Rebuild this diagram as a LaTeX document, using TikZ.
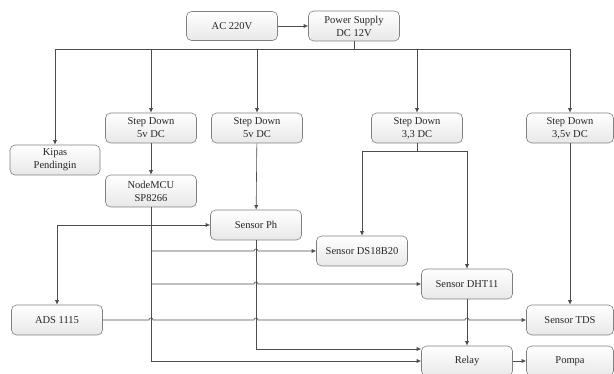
\documentclass[tikz,border=0pt]{standalone}
\usepackage{fontspec}
\setmainfont{Liberation Serif}
\usetikzlibrary{arrows.meta,calc}

\begin{document}
\begin{tikzpicture}[x=1pt,y=-1pt,>={Latex[length=4.5pt,width=4pt]},
    blok/.style={draw=black!50,line width=0.6pt,rounded corners=5pt,top color=white,
      bottom color=blue!5!black!9,minimum width=91pt,minimum height=30pt,align=center,
      inner sep=1pt,text=black!85,font=\fontsize{10.5}{13}\selectfont},
    garis/.style={draw=black!70,line width=0.6pt}]
    \useasboundingbox (0,0) rectangle (614,374);
    % Blocks (centres in pixel coords of the picture)
    \node[blok,minimum height=29pt] (ac) at (232,26) {AC 220V};
    \node[blok] (ps) at (354,26) {Power Supply\\DC 12V};
    \node[blok,minimum width=90pt] (kipas) at (55,160) {Kipas\\Pendingin};
    \node[blok] (sda) at (151,128) {Step Down\\5v DC};
    \node[blok] (sdb) at (257,128) {Step Down\\5v DC};
    \node[blok] (sdc) at (417,128) {Step Down\\3,3 DC};
    \node[blok,minimum width=87pt] (sdd) at (570,128) {Step Down\\3,5v DC};
    \node[blok,minimum height=32pt] (mcu) at (151,191) {NodeMCU\\SP8266};
    \node[blok] (ph) at (256,225) {Sensor Ph};
    \node[blok] (ds) at (362,251) {Sensor DS18B20};
    \node[blok] (dht) at (467,284) {Sensor DHT11};
    \node[blok,minimum width=87pt] (tds) at (570,320) {Sensor TDS};
    \node[blok] (ads) at (57,320) {ADS 1115};
    \node[blok] (relay) at (467,361) {Relay};
    \node[blok,minimum width=87pt] (pompa) at (570,361) {Pompa};
    % Supply
    \draw[garis,->] (ac) -- (ps);
    \draw[garis] (ps.south) -- ++(0,8) coordinate (bus);
    \draw[garis] (kipas.north |- bus) -- (sdd.north |- bus);
    \foreach \n in {kipas,sda,sdb,sdc,sdd}
        \draw[garis,->] (\n.north |- bus) -- (\n);
    % Step down outputs
    \draw[garis,->] (sda) -- (mcu);
    \draw[garis,->] (sdb) -- (ph);
    \draw[garis,->] (sdd) -- (tds);
    \draw[garis] (sdc.south) -- ++(0,8) coordinate (split);
    \draw[garis] (ds.north |- split) -- (dht.north |- split);
    \draw[garis,->] (ds.north |- split) -- (ds);
    \draw[garis,->] (dht.north |- split) -- (dht);
    % NodeMCU signals
    \draw[garis] (mcu.south) -- (mcu.south |- ph.west);
    \draw[garis,->] (ads.north |- ph.west) -- (ph);
    \draw[garis,->] (ads.north |- ph.west) -- (ads);
    \draw[garis,->] (mcu.south |- ds.west) -- ($(ph.south |- ds.west)+(-2,0)$)
        arc[start angle=180,end angle=360,radius=2] -- (ds);
    \draw[garis,->] (mcu.south |- dht.west) -- ($(ph.south |- dht.west)+(-2,0)$)
        arc[start angle=180,end angle=360,radius=2] -- (dht);
    \draw[garis,->] (ads) -- ($(mcu.south |- ads.east)+(-2,0)$)
        arc[start angle=180,end angle=360,radius=2] -- ($(ph.south |- ads.east)+(-2,0)$)
        arc[start angle=180,end angle=360,radius=2] -- ($(dht.south |- ads.east)+(-2,0)$)
        arc[start angle=180,end angle=360,radius=2] -- (tds);
    \draw[garis,->] (ph.south) |- ($(relay.west)+(0,-12)$);
    \draw[garis,->] (mcu.south) |- (relay.west);
    \draw[garis,->] (dht) -- (relay);
    \draw[garis,->] (relay) -- (pompa);
\end{tikzpicture}
\end{document}
